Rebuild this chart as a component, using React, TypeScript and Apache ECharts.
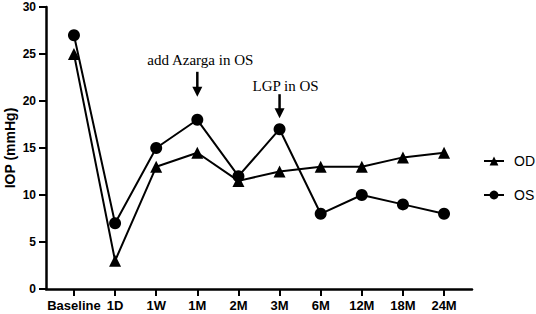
import React, { useEffect, useRef } from "react";
import * as echarts from "echarts";

const categories = ["Baseline", "1D", "1W", "1M", "2M", "3M", "6M", "12M", "18M", "24M"];
const odValues = [25, 3, 13, 14.5, 11.5, 12.5, 13, 13, 14, 14.5];
const osValues = [27, 7, 15, 18, 12, 17, 8, 10, 9, 8];
const yTicks = [0, 5, 10, 15, 20, 25, 30];
const annotations = [
  { text: "add Azarga in OS", category: "1M" },
  { text: "LGP in OS", category: "3M" },
];
// pixel layout for each annotation (arrow tip gap above point, arrow length, text gap above arrow, text x shift)
const annotationLayout = [
  { tipGap: 23, len: 25, textGap: 12, dx: 3 },
  { tipGap: 11, len: 24, textGap: 8, dx: 6 },
];

export default function App() {
  const ref = useRef<HTMLDivElement>(null);
  useEffect(() => {
    if (!ref.current) return;
    const chart = echarts.init(ref.current, null, { renderer: "svg" });
    const font = "'Liberation Sans', Arial, sans-serif";
    const idx = categories.map((_, i) => i);
    chart.setOption({
      animation: false,
      grid: { left: 46, right: 64, top: 7, bottom: 25, containLabel: false, outerBoundsMode: "none" },
      legend: {
        orient: "vertical",
        left: 483,
        top: 154,
        padding: 0,
        itemWidth: 20,
        itemHeight: 11,
        itemGap: 20,
        textStyle: { fontFamily: font, fontSize: 14, color: "#000", padding: [0, 0, 0, 5] },
        data: ["OD", "OS"],
      },
      xAxis: {
        type: "value",
        min: -0.68,
        max: 9.68,
        splitLine: { show: false },
        axisLine: { show: true, onZero: false, lineStyle: { color: "#000", width: 2.5 } },
        axisTick: { show: true, customValues: idx, length: 7, lineStyle: { color: "#000", width: 2 } },
        axisLabel: {
          customValues: idx,
          formatter: (v: number) => categories[Math.round(v)] ?? "",
          fontFamily: font,
          fontWeight: "bold",
          fontSize: 13,
          color: "#000",
          margin: 10,
        },
      },
      yAxis: {
        type: "value",
        min: 0,
        max: 30,
        interval: 5,
        name: "IOP (mmHg)",
        nameLocation: "middle",
        nameGap: 29,
        nameMoveOverlap: false,
        nameTextStyle: { fontFamily: font, fontWeight: "bold", fontSize: 14, color: "#000" },
        splitLine: { show: false },
        axisLine: { show: true, onZero: false, lineStyle: { color: "#000", width: 2.5 } },
        axisTick: { show: true, length: 7, lineStyle: { color: "#000", width: 2 } },
        axisLabel: {
          fontFamily: font,
          fontWeight: "bold",
          fontSize: 12,
          color: "#000",
          margin: 10,
          formatter: (v: number) => (yTicks.includes(v) ? String(v) : ""),
        },
      },
      series: [
        {
          name: "OD",
          type: "line",
          data: odValues.map((v, i) => [i, v]),
          symbol: "triangle",
          symbolSize: 12,
          lineStyle: { color: "#000", width: 2 },
          itemStyle: { color: "#000" },
          z: 2,
        },
        {
          name: "OS",
          type: "line",
          data: osValues.map((v, i) => [i, v]),
          symbol: "circle",
          symbolSize: 12,
          lineStyle: { color: "#000", width: 2 },
          itemStyle: { color: "#000" },
          z: 3,
        },
      ],
    });

    const graphics: any[] = [];
    annotations.forEach((a, k) => {
      const i = categories.indexOf(a.category);
      const p = chart.convertToPixel({ gridIndex: 0 }, [i, osValues[i]]) as number[];
      const L = annotationLayout[k];
      const tipY = p[1] - L.tipGap;
      const topY = tipY - L.len;
      graphics.push({
        type: "line",
        shape: { x1: p[0], y1: topY, x2: p[0], y2: tipY - 8 },
        style: { stroke: "#000", lineWidth: 2.5 },
      });
      graphics.push({
        type: "polygon",
        shape: { points: [[p[0] - 5, tipY - 10], [p[0] + 5, tipY - 10], [p[0], tipY]] },
        style: { fill: "#000" },
      });
      graphics.push({
        type: "text",
        x: p[0] + L.dx,
        y: topY - L.textGap,
        style: {
          text: a.text,
          fontFamily: "'Liberation Serif', 'Times New Roman', serif",
          fontSize: 15,
          fill: "#000",
          align: "center",
          verticalAlign: "middle",
        },
      });
    });
    chart.setOption({ graphic: graphics });
    return () => chart.dispose();
  }, []);
  return (
    <div
      ref={ref}
      style={{ position: "fixed", left: 0, top: 0, width: 536, height: 314, background: "#fff" }}
    />
  );
}
